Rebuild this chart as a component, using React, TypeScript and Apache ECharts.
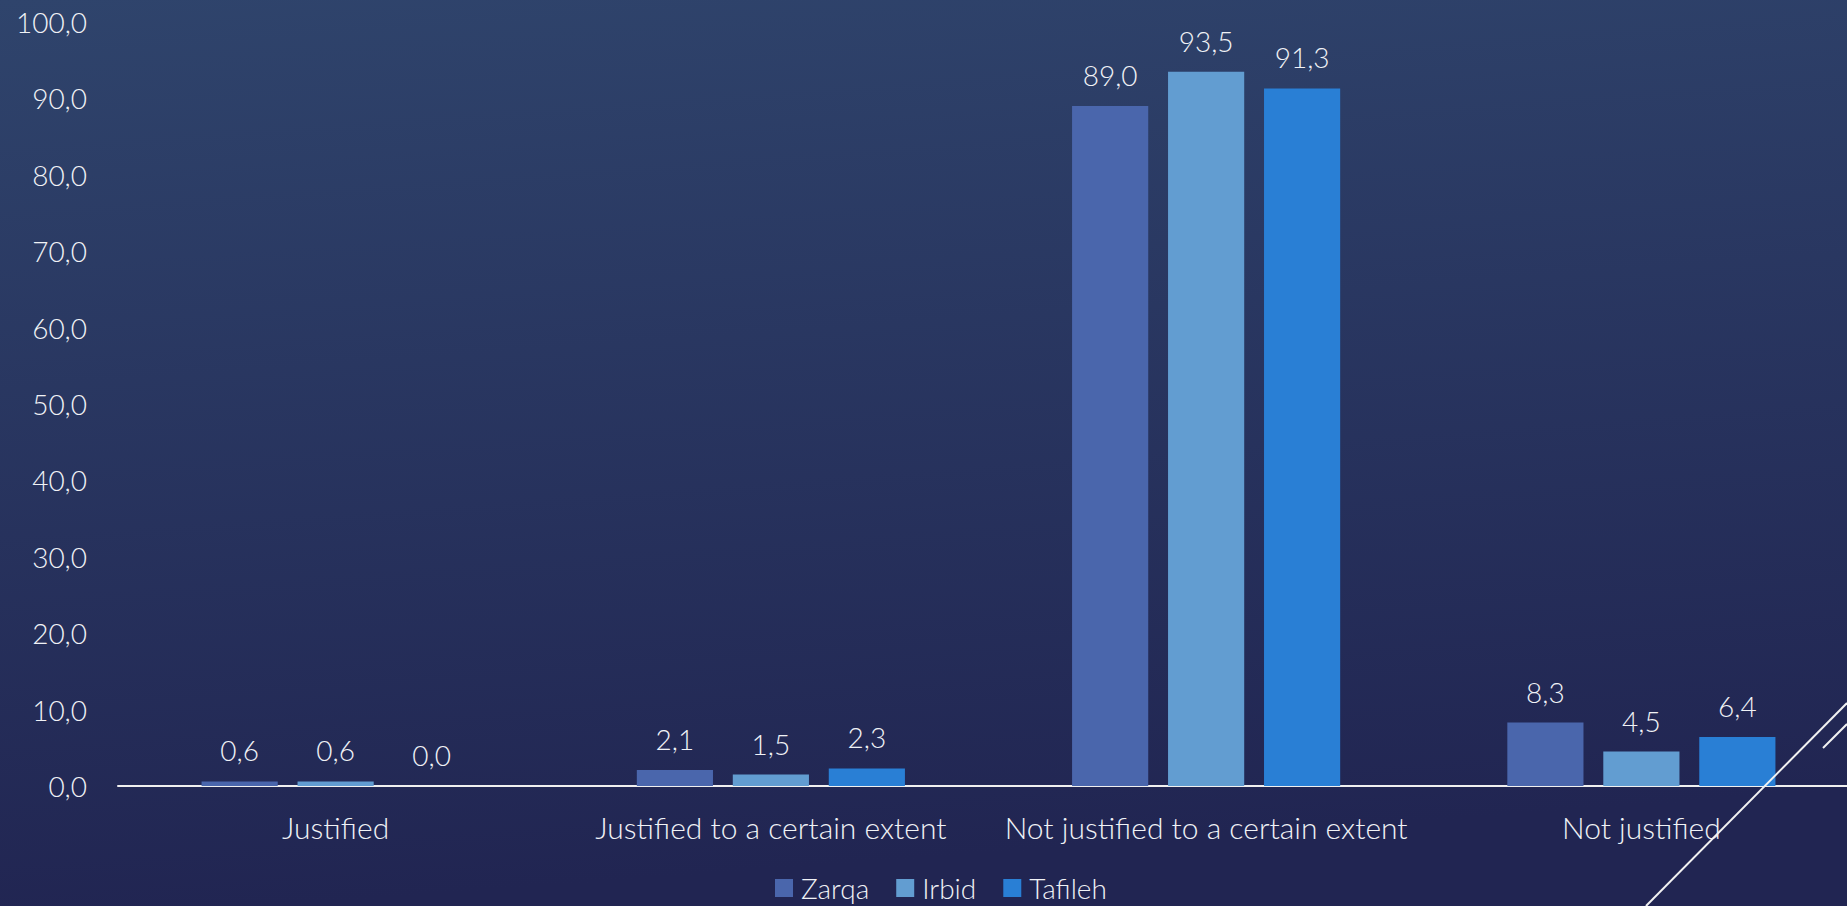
import React, { useEffect, useRef } from "react";
import * as echarts from "echarts";

const categories = [
  "Justified",
  "Justified to a certain extent",
  "Not justified to a certain extent",
  "Not justified",
];
const zarqa = [0.6, 2.1, 89.0, 8.3];
const irbid = [0.6, 1.5, 93.5, 4.5];
const tafileh = [0.0, 2.3, 91.3, 6.4];
const seriesNames = ["Zarqa", "Irbid", "Tafileh"];
const seriesColors = ["#4a66ac", "#629dd1", "#297fd5"];

const FONT = "Lato, 'Open Sans', sans-serif";
const W = 300;
const TEXT = "#f0f2f6";
const fmt = (v: number) => v.toFixed(1).replace(".", ",");

export default function App() {
  const ref = useRef<HTMLDivElement>(null);
  useEffect(() => {
    if (!ref.current) return;
    const chart = echarts.init(ref.current, undefined, { renderer: "svg" });
    const data = [zarqa, irbid, tafileh];
    chart.setOption({
      animation: false,
      backgroundColor: {
        type: "linear",
        x: 0,
        y: 0,
        x2: 0.15,
        y2: 1,
        colorStops: [
          { offset: 0, color: "#2f446c" },
          { offset: 1, color: "#212552" },
        ],
      },
      textStyle: { fontFamily: FONT },
      grid: {
        left: 118,
        width: 1741,
        top: 22,
        height: 764,
        containLabel: false,
        outerBoundsMode: "none",
      },
      legend: {
        top: 874,
        left: 775,
        padding: 0,
        itemWidth: 18,
        itemHeight: 18,
        itemGap: 27,
        icon: "rect",
        textStyle: {
          color: TEXT,
          fontSize: 28,
          fontWeight: W,
          fontFamily: FONT,
          padding: [0, 0, 0, 3],
        },
        data: seriesNames,
      },
      xAxis: {
        type: "category",
        data: categories,
        axisLine: { lineStyle: { color: "#f0f0f0", width: 2 } },
        axisTick: { show: false },
        axisLabel: {
          color: TEXT,
          fontSize: 30,
          fontWeight: W,
          fontFamily: FONT,
          margin: 26,
          interval: 0,
        },
      },
      yAxis: {
        type: "value",
        min: 0,
        max: 100,
        interval: 10,
        axisLine: { show: false },
        axisTick: { show: false },
        splitLine: { show: false },
        axisLabel: {
          color: TEXT,
          fontSize: 28,
          fontWeight: W,
          fontFamily: FONT,
          margin: 31,
          formatter: (v: number) => fmt(v),
        },
      },
      series: seriesNames.map((name, i) => ({
        name,
        type: "bar",
        data: data[i],
        barWidth: "17.5%",
        barGap: "26%",
        itemStyle: { color: seriesColors[i] },
        label: {
          show: true,
          position: "top",
          distance: 17,
          color: TEXT,
          fontSize: 28,
          fontWeight: W,
          fontFamily: FONT,
          formatter: (p: any) => fmt(p.value),
        },
      })),
      graphic: [
        {
          type: "line",
          shape: { x1: 1646, y1: 906, x2: 1847, y2: 703 },
          style: { stroke: "#f2f2f2", lineWidth: 2 },
          z: 100,
        },
        {
          type: "line",
          shape: { x1: 1823, y1: 748, x2: 1847, y2: 724 },
          style: { stroke: "#f2f2f2", lineWidth: 2 },
          z: 100,
        },
      ],
    });
    return () => chart.dispose();
  }, []);
  return (
    <div
      ref={ref}
      style={{ position: "absolute", left: 0, top: 0, width: 1847, height: 906 }}
    />
  );
}
